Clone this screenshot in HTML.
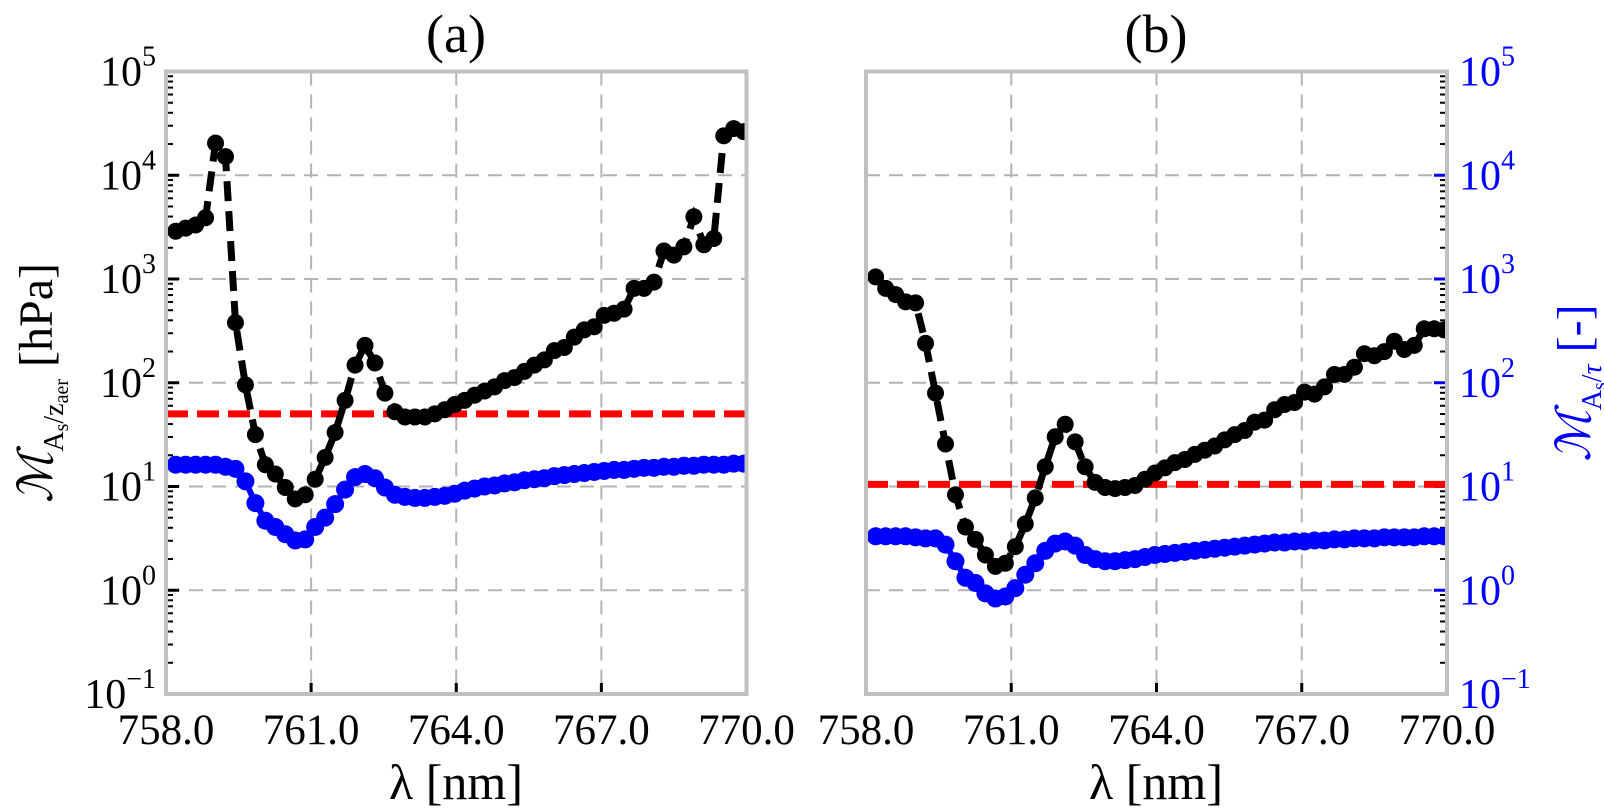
<!DOCTYPE html>
<html><head><meta charset="utf-8">
<style>
html,body{margin:0;padding:0;background:#fff;}
svg{display:block;font-family:"Liberation Serif","DejaVu Serif",serif;}
</style></head>
<body>
<svg id="fig" width="1604" height="809" viewBox="0 0 1604 809" xmlns="http://www.w3.org/2000/svg">
<g id="panelA"></g>
<g id="panelB"></g>
<text x="456" y="52" font-size="54" text-anchor="middle">(a)</text>
<text x="1156" y="52" font-size="54" text-anchor="middle">(b)</text>
<text x="456" y="799" font-size="50" text-anchor="middle">λ [nm]</text>
<text x="1156" y="799" font-size="50" text-anchor="middle">λ [nm]</text>
<text transform="translate(52,383) rotate(-90)" font-size="48" text-anchor="middle"><tspan font-style="italic">ℳ</tspan><tspan font-size="28" dy="11">A<tspan font-size="20" dy="5">s</tspan><tspan dy="-5">/z</tspan><tspan font-size="20" dy="5">aer</tspan></tspan><tspan dy="-16"> [hPa]</tspan></text>
<text transform="translate(1590,383) rotate(-90)" font-size="48" text-anchor="middle" fill="#0000ff"><tspan font-style="italic">ℳ</tspan><tspan font-size="28" dy="11">A<tspan font-size="20" dy="5">s</tspan><tspan dy="-5">/</tspan><tspan font-style="italic">τ</tspan></tspan><tspan dy="-11"> [-]</tspan></text>
</svg>
<script>
// ---- data (log10 values) ----
const wlStart = 758.2;
const wlStep = 0.206;
const xTicks = [758, 761, 764, 767, 770];
const xTickLabels = ["758.0", "761.0", "764.0", "767.0", "770.0"];
const yTicks = [-1, 0, 1, 2, 3, 4, 5];
const blackA = [3.46,3.49,3.52,3.59,4.31,4.18,2.58,1.98,1.50,1.21,1.12,0.99,0.88,0.92,1.07,1.28,1.52,1.83,2.17,2.36,2.19,1.90,1.72,1.67,1.67,1.67,1.70,1.74,1.79,1.83,1.88,1.92,1.96,2.02,2.05,2.11,2.17,2.22,2.31,2.34,2.44,2.51,2.54,2.65,2.67,2.71,2.91,2.91,2.97,3.27,3.23,3.31,3.60,3.33,3.39,4.38,4.45,4.42];
const blueA = [1.21,1.21,1.21,1.21,1.21,1.19,1.17,1.05,0.84,0.67,0.61,0.54,0.48,0.49,0.61,0.70,0.83,0.97,1.09,1.12,1.08,0.99,0.92,0.90,0.89,0.89,0.90,0.91,0.93,0.96,0.98,1.00,1.01,1.03,1.04,1.06,1.07,1.08,1.10,1.11,1.12,1.13,1.14,1.15,1.16,1.16,1.17,1.18,1.18,1.19,1.19,1.20,1.20,1.21,1.21,1.21,1.22,1.22];
const redA = 1.70;
const blackB = [3.02,2.91,2.85,2.78,2.77,2.38,1.90,1.41,0.92,0.61,0.49,0.34,0.23,0.26,0.42,0.64,0.89,1.19,1.48,1.60,1.43,1.19,1.04,0.99,0.98,0.99,1.01,1.07,1.13,1.18,1.23,1.26,1.31,1.35,1.39,1.45,1.50,1.54,1.62,1.64,1.74,1.79,1.81,1.91,1.89,1.96,2.08,2.08,2.15,2.28,2.26,2.30,2.40,2.32,2.36,2.52,2.52,2.51];
const blueB = [0.52,0.52,0.52,0.52,0.51,0.50,0.50,0.44,0.28,0.12,0.07,-0.03,-0.08,-0.06,0.02,0.15,0.26,0.38,0.45,0.47,0.43,0.34,0.30,0.28,0.28,0.29,0.30,0.32,0.34,0.35,0.36,0.37,0.38,0.39,0.40,0.41,0.42,0.43,0.44,0.45,0.46,0.46,0.47,0.47,0.48,0.48,0.49,0.49,0.50,0.50,0.50,0.51,0.51,0.51,0.51,0.52,0.52,0.52];
const redB = 1.02;

const NS = "http://www.w3.org/2000/svg";
const TOP = 71.5, BOT = 694;
function yScale(v){ return BOT - (v - (-1)) / 6 * (BOT - TOP); }
function mk(parent, tag, attrs){
  const e = document.createElementNS(NS, tag);
  for (const k in attrs) e.setAttribute(k, attrs[k]);
  parent.appendChild(e); return e;
}
function drawPanel(g, L, R, black, blue, red, side){
  const xScale = w => L + (w - 758) / 12 * (R - L);
  const clip = mk(g, "clipPath", {id: "clip" + side});
  mk(clip, "rect", {x: L, y: TOP, width: R - L, height: BOT - TOP});
  xTicks.slice(1, -1).forEach(t => {
    const l = mk(g, "line", {x1: xScale(t), x2: xScale(t), y1: TOP, y2: BOT, stroke: "#b3b3b3", "stroke-width": 2, "stroke-dasharray": "14,9"});
    
    
  });
  yTicks.slice(1, -1).forEach(t => {
    const l = mk(g, "line", {x1: L, x2: R, y1: yScale(t), y2: yScale(t), stroke: "#b3b3b3", "stroke-width": 2, "stroke-dasharray": "14,9"});
    
    
  });
  const axX = side === "a" ? L : R;
  const dir = side === "a" ? 1 : -1;
  yTicks.forEach((t, i) => {
    if (i < yTicks.length - 1) {
      for (let m = 2; m <= 9; m++) {
        const yy = yScale(t + Math.log10(m));
        mk(g, "line", {x1: axX, x2: axX + dir * 7, y1: yy, y2: yy, stroke: "#000", "stroke-width": 2});
      }
    }
    if (i > 0 && i < yTicks.length - 1) {
      mk(g, "line", {x1: axX, x2: axX + dir * 13, y1: yScale(t), y2: yScale(t), stroke: side === "a" ? "#000" : "#0000ff", "stroke-width": 3});
    }
    const lab = mk(g, "text", {x: side === "a" ? L - 10 : R + 12, y: yScale(t) + 14, "font-size": 42, fill: side === "a" ? "#000" : "#0000ff", "text-anchor": side === "a" ? "end" : "start"});
    
    
    const exp = String(t).replace("-", "−");
    lab.innerHTML = '10<tspan font-size="28" dy="-20">' + exp + '</tspan>';
  });
  xTicks.forEach((t, i) => {
    if (i > 0 && i < xTicks.length - 1)
      mk(g, "line", {x1: xScale(t), x2: xScale(t), y1: BOT, y2: BOT - 11, stroke: "#000", "stroke-width": 3});
    const lab = mk(g, "text", {x: xScale(t), y: BOT + 50, "font-size": 43, "text-anchor": "middle"});
    
    
    lab.textContent = xTickLabels[i];
  });
  const dg = mk(g, "g", {"clip-path": "url(#clip" + side + ")"});
  const rl = mk(dg, "line", {x1: L, x2: R, y1: yScale(red), y2: yScale(red), stroke: "#ff0000", "stroke-width": 7, "stroke-dasharray": "22,9"});
  
  
  const bpts = blue.map((v, i) => xScale(wlStart + i * wlStep).toFixed(1) + "," + yScale(v).toFixed(1)).join(" ");
  const bl = mk(dg, "polyline", {points: bpts, fill: "none", stroke: "#0000ff", "stroke-width": 6});
  
  
  blue.forEach((v, i) => {
    const c = mk(dg, "circle", {cx: xScale(wlStart + i * wlStep), cy: yScale(v), r: 9, fill: "#0000ff"});
    
    
  });
  const kpts = black.map((v, i) => xScale(wlStart + i * wlStep).toFixed(1) + "," + yScale(v).toFixed(1)).join(" ");
  const kl = mk(dg, "polyline", {points: kpts, fill: "none", stroke: "#000", "stroke-width": 7, "stroke-dasharray": "20,10"});
  
  
  black.forEach((v, i) => {
    const c = mk(dg, "circle", {cx: xScale(wlStart + i * wlStep), cy: yScale(v), r: 8.5, fill: "#000"});
    
    
  });
  const fr = mk(g, "rect", {x: L, y: TOP, width: R - L, height: BOT - TOP, fill: "none", stroke: "#c0c0c0", "stroke-width": 4});
  
  
}
drawPanel(document.getElementById("panelA"), 166, 746.5, blackA, blueA, redA, "a");
drawPanel(document.getElementById("panelB"), 866, 1447, blackB, blueB, redB, "b");
</script>
</body></html>
